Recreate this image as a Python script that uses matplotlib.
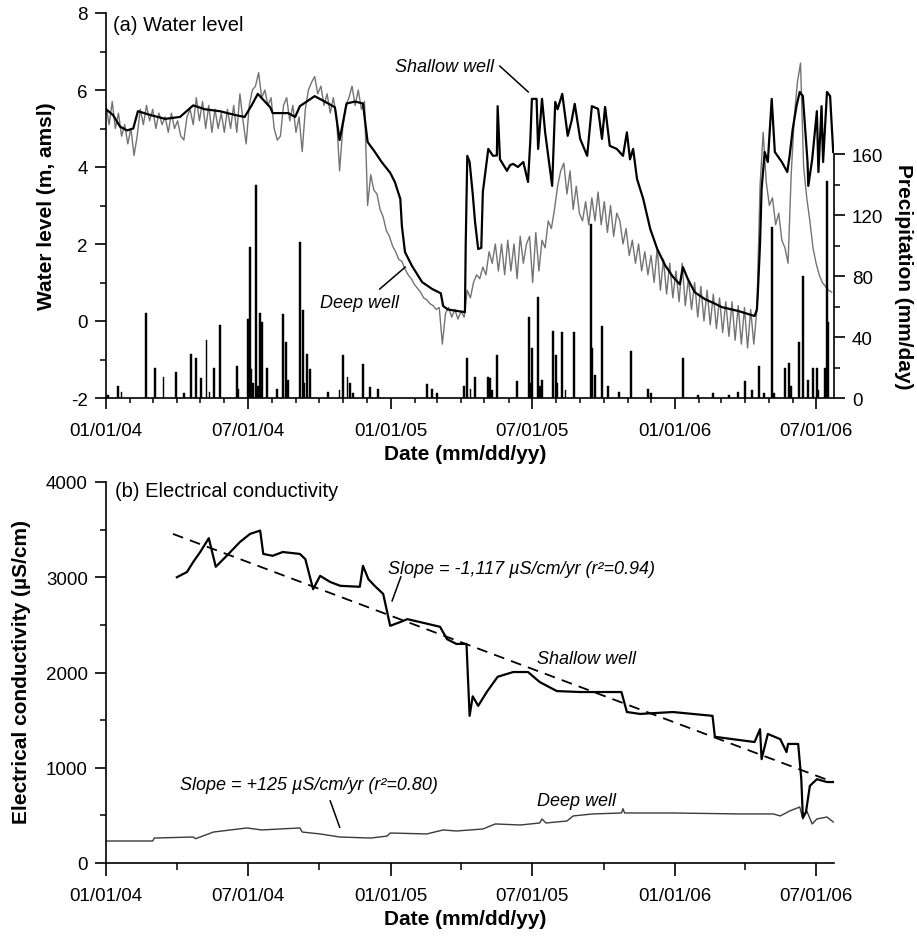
import numpy as np
import matplotlib
matplotlib.use('Agg')
import matplotlib.pyplot as plt
import matplotlib.dates as mdates
from matplotlib.ticker import MultipleLocator, FixedLocator

plt.rcParams['font.family'] = ['Liberation Sans', 'DejaVu Sans']
plt.rcParams['axes.unicode_minus'] = False

# ---------------- data (days counted from 01/01/04) ----------------
START = np.datetime64('2004-01-01')
X_END_DAY = 935

# (a) shallow well water level (m, amsl)
shallow_day = [0, 9, 18, 27, 35, 41, 57, 76, 95, 112,
               127, 146, 166, 178, 187, 195, 204, 211, 214, 234,
               243, 249, 268, 281, 294, 300, 309, 320, 330, 336,
               345, 354, 365, 371, 378, 380, 384, 393, 406, 419,
               430, 433, 439, 448, 461, 462, 464, 467, 471, 474,
               478, 482, 484, 491, 497, 502, 503, 506, 515, 519,
               523, 529, 536, 542, 545, 547, 553, 555, 560, 564,
               573, 577, 580, 586, 593, 598, 602, 609, 618, 624,
               632, 637, 641, 647, 656, 664, 669, 673, 677, 682,
               690, 699, 708, 718, 728, 737, 741, 747, 756, 769,
               782, 791, 812, 833, 836, 837, 840, 842, 846, 850,
               855, 859, 868, 875, 878, 882, 887, 891, 895, 901,
               902, 907, 913, 915, 919, 921, 926, 930, 934]
shallow_wl = [5.5, 5.35, 5.05, 4.95, 5.0, 5.45, 5.35, 5.25, 5.3, 5.6,
              5.5, 5.45, 5.35, 5.3, 5.6, 5.9, 5.7, 5.55, 5.4, 5.4,
              5.3, 5.58, 5.84, 5.7, 5.55, 4.7, 5.65, 5.7, 5.65, 4.65,
              4.4, 4.13, 3.85, 3.61, 3.17, 2.47, 1.79, 1.43, 1.01, 0.83,
              0.72, 0.39, 0.3, 0.27, 0.23, 2.0, 4.29, 4.13, 3.3, 2.57,
              1.87, 1.9, 3.35, 4.47, 4.29, 4.3, 5.58, 4.2, 3.9, 4.05,
              4.08, 4.0, 4.13, 3.61, 4.7, 5.77, 5.77, 4.47, 5.77, 4.9,
              3.51, 5.69, 5.5, 5.9, 4.81, 5.2, 5.64, 4.73, 4.29, 5.58,
              5.51, 4.73, 5.56, 4.55, 4.47, 4.29, 4.9, 4.2, 4.47, 3.69,
              3.17, 2.39, 1.87, 1.45, 1.15, 0.95, 1.4, 1.1, 0.75, 0.57,
              0.45, 0.36, 0.26, 0.13, 0.3, 0.65, 2.0, 3.43, 4.39, 4.13,
              5.77, 4.39, 4.13, 3.87, 4.29, 4.99, 5.6, 5.95, 5.84, 4.13,
              3.51, 4.2, 5.45, 3.87, 5.58, 4.13, 5.95, 5.84, 4.39]

# (a) deep well water level, one reading every 4 days from 01/01/04
DEEP_STEP = 4
deep_wl = [5.6, 5.1, 5.7, 5.0, 5.4, 4.8, 5.1, 4.6, 5.0, 4.3,
           4.8, 5.5, 5.1, 5.6, 5.2, 5.5, 5.0, 5.4, 5.1, 5.3,
           4.9, 5.4, 5.0, 5.2, 4.8, 4.7, 5.3, 5.5, 5.1, 5.8,
           5.2, 5.7, 5.0, 5.6, 4.9, 5.5, 5.0, 5.4, 4.9, 5.5,
           5.0, 5.6, 4.9, 5.9, 5.2, 4.6, 5.6, 6.0, 6.1, 6.45,
           5.8, 6.0, 5.6, 5.8, 5.0, 4.7, 4.8, 5.6, 5.8, 5.2,
           5.6, 4.9, 5.3, 4.4, 5.5, 6.0, 6.2, 6.35, 5.9, 6.1,
           5.6, 5.9, 5.4, 5.8, 5.3, 3.9, 5.0, 5.6, 5.8, 6.1,
           5.6, 6.0, 5.5, 5.7, 3.0, 3.8, 3.4, 3.3, 2.9, 2.7,
           2.35, 2.2, 1.95, 1.8, 1.6, 1.55, 1.35, 1.2, 1.1, 0.95,
           0.85, 0.75, 0.6, 0.55, 0.45, 0.4, 0.3, 0.35, -0.6, 0.2,
           0.35, 0.1, 0.3, 0.05, 0.25, 0.1, 0.8, 0.6, 1.0, 1.2,
           1.1, 1.4, 1.2, 1.8, 1.5, 2.0, 1.3, 2.0, 1.2, 2.1,
           1.3, 2.0, 1.1, 2.2, 1.5, 2.0, 2.2, 1.0, 2.3, 1.3,
           2.1, 1.9, 2.6, 2.4, 2.9, 3.5, 3.9, 4.1, 3.3, 3.9,
           2.9, 3.5, 2.8, 2.6, 3.1, 2.5, 3.2, 2.6, 3.35, 2.5,
           3.1, 2.3, 3.0, 2.2, 2.8, 2.6, 2.0, 2.4, 1.7, 2.1,
           1.5, 2.0, 1.3, 1.8, 1.2, 1.7, 1.0, 1.9, 0.8, 1.6,
           0.7, 1.5, 0.6, 1.3, 0.5, 1.5, 0.4, 1.1, 0.3, 1.0,
           0.1, 0.9, 0.0, 0.8, -0.1, 0.7, -0.2, 0.6, -0.3, 0.5,
           -0.4, 0.5, -0.5, 0.4, -0.6, 0.35, -0.7, 0.3, -0.6, 0.3,
           3.5, 4.9, 3.6, 3.0, 3.2, 2.5, 2.8, 2.1, 1.9, 1.5,
           3.8, 5.3, 6.2, 6.7, 4.0, 3.2, 2.6, 1.9, 1.5, 1.2,
           1.0, 0.9, 0.8, 0.75]

# (a) daily precipitation (mm/day)
precip_day = [3, 15, 20, 51, 63, 74, 90, 100, 109, 116,
              122, 129, 133, 139, 146, 168, 170, 182, 185, 187,
              189, 193, 195, 198, 200, 207, 220, 227, 231, 234,
              249, 253, 255, 258, 262, 285, 300, 304, 310, 313,
              317, 330, 339, 349, 412, 419, 425, 460, 464, 468,
              474, 491, 493, 496, 502, 528, 543, 545, 547, 555,
              557, 560, 574, 578, 580, 586, 590, 601, 623, 625,
              628, 637, 645, 659, 674, 696, 700, 741, 760, 780,
              800, 812, 821, 830, 839, 845, 855, 858, 872, 877,
              880, 890, 895, 902, 908, 913, 915, 923, 926, 928]
precip_mm = [2, 8, 4, 56, 20, 14, 17, 3, 29, 26,
             13, 38, 4, 20, 48, 21, 6, 52, 99, 19,
             10, 140, 8, 56, 50, 20, 6, 55, 37, 12,
             102, 58, 10, 29, 19, 4, 5, 28, 14, 10,
             3, 22, 7, 6, 9, 6, 3, 8, 26, 6,
             14, 14, 13, 5, 28, 11, 53, 10, 33, 66,
             8, 12, 44, 28, 10, 43, 5, 43, 114, 33,
             15, 47, 8, 4, 31, 6, 3, 26, 2, 3,
             2, 4, 11, 5, 21, 3, 112, 3, 20, 23,
             8, 37, 80, 12, 20, 20, 5, 20, 142, 50]

# (b) electrical conductivity (uS/cm)
shallow_ec_day = [91, 104, 112, 121, 132, 141, 155, 172, 185, 198,
                  202, 214, 227, 249, 256, 266, 275, 288, 301, 326,
                  330, 337, 345, 356, 365, 378, 387, 403, 429, 438,
                  450, 463, 467, 471, 478, 489, 503, 523, 542, 557,
                  579, 609, 634, 662, 669, 686, 728, 779, 782, 805,
                  833, 840, 842, 850, 866, 874, 876, 889, 893, 895,
                  899, 904, 913, 926, 934]
shallow_ec = [3000, 3055, 3160, 3265, 3410, 3110, 3225, 3370, 3455, 3490,
              3245, 3225, 3265, 3245, 3190, 2875, 3015, 2950, 2910, 2900,
              3120, 2980, 2910, 2825, 2490, 2530, 2560, 2530, 2480, 2350,
              2300, 2300, 1545, 1750, 1650, 1795, 1955, 2005, 2005, 1900,
              1805, 1795, 1795, 1795, 1585, 1565, 1585, 1545, 1325, 1300,
              1270, 1405, 1090, 1355, 1300, 1165, 1250, 1250, 880, 480,
              535, 810, 880, 850, 850]
deep_ec_day = [0, 60, 62, 112, 115, 138, 181, 200, 249, 252,
               275, 300, 340, 361, 365, 412, 433, 450, 484, 500,
               532, 557, 560, 565, 592, 600, 625, 662, 664, 666,
               728, 814, 857, 866, 878, 891, 895, 900, 907, 913,
               926, 934]
deep_ec = [231, 231, 262, 273, 255, 325, 368, 347, 368, 325,
           305, 273, 262, 283, 315, 305, 347, 336, 357, 410,
           399, 420, 462, 420, 441, 494, 515, 525, 570, 525,
           525, 515, 515, 494, 546, 588, 462, 546, 410, 462,
           483, 430]
trend_day = [86, 934]
trend_ec = [3455, 850]


def to_dates(days):
    return START + np.asarray(days).astype('timedelta64[D]')


deep_day = np.arange(len(deep_wl)) * DEEP_STEP

# ---------------- figure ----------------
W, H = 917, 937
fig = plt.figure(figsize=(W / 100, H / 100), dpi=100)

L, R = 106, 834
top_t, top_b = 14, 399
bot_t, bot_b = 483, 864
ax1 = fig.add_axes([L / W, 1 - top_b / H, (R - L) / W, (top_b - top_t) / H])
ax2 = ax1.twinx()
axb = fig.add_axes([L / W, 1 - bot_b / H, (R - L) / W, (bot_b - bot_t) / H])

TICK_FS = 13.5
LAB_FS = 15
ANN_FS = 13

# panel (a)
ax1.plot(to_dates(deep_day), deep_wl, color='#737373', lw=1.0, zorder=2)
ax1.plot(to_dates(shallow_day), shallow_wl, color='black', lw=1.6, zorder=3)
ax2.bar(to_dates(precip_day), precip_mm, width=2.2, color='black',
        edgecolor='black', linewidth=0.3, zorder=2)

xlim = (START, START + np.timedelta64(X_END_DAY, 'D'))
ax1.set_xlim(*xlim)
ax1.set_ylim(-2, 8)
ax1.yaxis.set_major_locator(FixedLocator([-2, 0, 2, 4, 6, 8]))
ax1.yaxis.set_minor_locator(MultipleLocator(1))
ax2.set_ylim(0, 252.5)
ax2.yaxis.set_major_locator(FixedLocator([0, 40, 80, 120, 160]))
ax2.yaxis.set_minor_locator(FixedLocator([20, 60, 100, 140]))

for ax in (ax1, axb):
    ax.xaxis.set_major_locator(mdates.MonthLocator(bymonth=[1, 7]))
    ax.xaxis.set_major_formatter(mdates.DateFormatter('%m/%d/%y'))
ax1.xaxis.set_minor_locator(mdates.MonthLocator())
axb.xaxis.set_minor_locator(mdates.MonthLocator(bymonth=[4, 10]))

for sp in ('top', 'right'):
    ax1.spines[sp].set_visible(False)
    axb.spines[sp].set_visible(False)
for sp in ('top', 'left', 'bottom'):
    ax2.spines[sp].set_visible(False)
ax2.spines['right'].set_bounds(0, 160)
for ax in (ax1, ax2, axb):
    for sp in ax.spines.values():
        sp.set_linewidth(1.2)

ax1.tick_params(axis='x', which='major', direction='out', length=8, width=1.2,
                pad=9, labelsize=TICK_FS)
ax1.tick_params(axis='x', which='minor', direction='out', length=3.5, width=1.1)
ax1.tick_params(axis='y', which='major', direction='out', length=8, width=1.2,
                pad=5, labelsize=TICK_FS)
ax1.tick_params(axis='y', which='minor', direction='out', length=4, width=1.1)
ax2.tick_params(axis='y', which='major', direction='out', length=8, width=1.2,
                pad=5, labelsize=TICK_FS)
ax2.tick_params(axis='y', which='minor', direction='out', length=4, width=1.1)

# panel (b)
axb.plot(to_dates(shallow_ec_day), shallow_ec, color='black', lw=1.6, zorder=3)
axb.plot(to_dates(trend_day), trend_ec, color='black', lw=1.3,
         linestyle=(0, (6, 4)), zorder=2)
axb.plot(to_dates(deep_ec_day), deep_ec, color='#3a3a3a', lw=1.0, zorder=2)
axb.set_xlim(*xlim)
axb.set_ylim(0, 4000)
axb.yaxis.set_major_locator(MultipleLocator(1000))
axb.yaxis.set_minor_locator(MultipleLocator(500))
axb.tick_params(axis='x', which='major', direction='out', length=9, width=1.2,
                pad=8, labelsize=TICK_FS)
axb.tick_params(axis='x', which='minor', direction='out', length=5, width=1.1)
axb.tick_params(axis='y', which='major', direction='out', length=8, width=1.2,
                pad=5, labelsize=TICK_FS)
axb.tick_params(axis='y', which='minor', direction='out', length=4, width=1.1)

# labels
fig.text(47 / W, 1 - 206 / H, 'Water level (m, amsl)', rotation=90,
         ha='center', va='center', fontsize=LAB_FS, fontweight='bold')
fig.text(903 / W, 1 - 277 / H, 'Precipitation (mm/day)', rotation=270,
         ha='center', va='center', fontsize=LAB_FS, fontweight='bold')
fig.text(22 / W, 1 - 672 / H, 'Electrical conductivity (\u00b5S/cm)', rotation=90,
         ha='center', va='center', fontsize=LAB_FS, fontweight='bold')
fig.text(465 / W, 1 - 455 / H, 'Date (mm/dd/yy)', ha='center', va='center',
         fontsize=LAB_FS, fontweight='bold')
fig.text(465 / W, 1 - 920 / H, 'Date (mm/dd/yy)', ha='center', va='center',
         fontsize=LAB_FS, fontweight='bold')

# annotations panel (a)
ax1.text(0.0096, 0.971, '(a) Water level', transform=ax1.transAxes,
         ha='left', va='center', fontsize=14.5)
ax1.text(0.397, 0.860, 'Shallow well', transform=ax1.transAxes,
         ha='left', va='center', fontsize=ANN_FS, style='italic')
ax1.plot([0.541, 0.580], [0.862, 0.795], transform=ax1.transAxes,
         color='black', lw=1.1, clip_on=False)
ax1.text(0.294, 0.249, 'Deep well', transform=ax1.transAxes,
         ha='left', va='center', fontsize=ANN_FS, style='italic')
ax1.plot([0.376, 0.411], [0.283, 0.340], transform=ax1.transAxes,
         color='black', lw=1.1, clip_on=False)

# annotations panel (b)
axb.text(0.0124, 0.979, '(b) Electrical conductivity', transform=axb.transAxes,
         ha='left', va='center', fontsize=14.5)
axb.text(0.387, 0.772, 'Slope = -1,117 \u00b5S/cm/yr (r\u00b2=0.94)',
         transform=axb.transAxes, ha='left', va='center', fontsize=ANN_FS,
         style='italic')
axb.plot([0.405, 0.393], [0.751, 0.688], transform=axb.transAxes,
         color='black', lw=1.1, clip_on=False)
axb.text(0.592, 0.538, 'Shallow well', transform=axb.transAxes,
         ha='left', va='center', fontsize=ANN_FS, style='italic')
axb.text(0.102, 0.207, 'Slope = +125 \u00b5S/cm/yr (r\u00b2=0.80)',
         transform=axb.transAxes, ha='left', va='center', fontsize=ANN_FS,
         style='italic')
axb.plot([0.308, 0.321], [0.163, 0.094], transform=axb.transAxes,
         color='black', lw=1.1, clip_on=False)
axb.text(0.592, 0.165, 'Deep well', transform=axb.transAxes,
         ha='left', va='center', fontsize=ANN_FS, style='italic')

fig.savefig('out.png', dpi=100)
